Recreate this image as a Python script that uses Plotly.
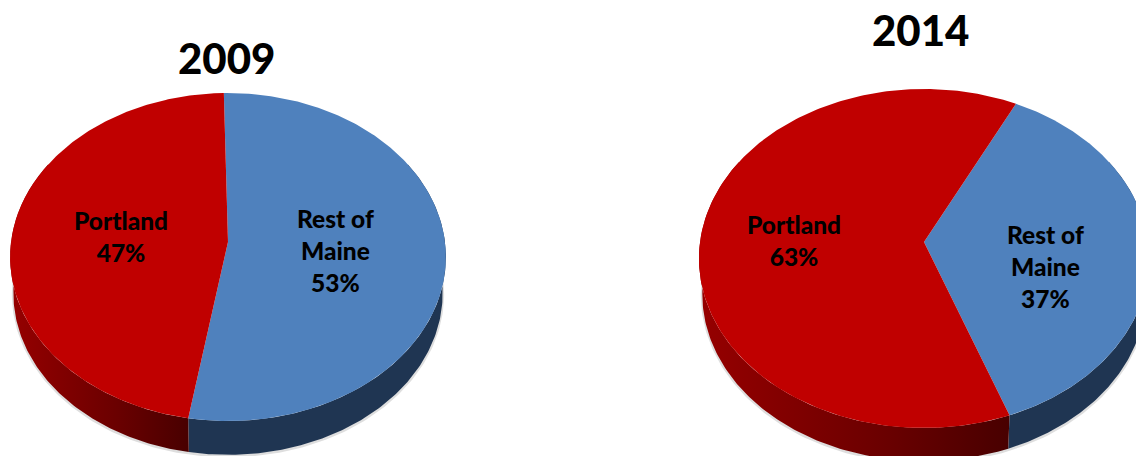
import numpy as np
import plotly.graph_objects as go

# Survey shares, in percent
years = ["2009", "2014"]
categories = ["Rest of<br>Maine", "Portland"]
shares_2009 = [53, 47]
shares_2014 = [37, 63]

WIDTH, HEIGHT = 1136, 456
FACE_COLORS = ["#4F81BD", "#C00000"]
WALL_BLUE = "#1F3552"
WALL_RED = [[0, "#960000"], [0.6, "#6A0000"], [1, "#480000"]]
WALL_TOP, WALL_BOTTOM = 60.0, 300.0  # part of the rim whose wall can be seen

# Projected disc: apex position, horizontal and vertical scale, tilt, first-slice angle
PIES = [
    dict(cx=228, cy=242, a=217, b=162.6, k=0.0915, rot=-1.2, s=0.985, dy=36.5,
         title_xy=(226, 58), label_xy=[(335, 250), (121, 236)]),
    dict(cx=924, cy=242, a=224, b=167.9, k=0.0973, rot=26.5, s=0.985, dy=36,
         title_xy=(920, 30), label_xy=[(1045, 266), (794, 240)]),
]


def rim(p, deg, bottom=False):
    """Project rim angles (clockwise from the top) onto the tilted disc."""
    t = np.radians(deg)
    u, v = np.sin(t), np.cos(t)
    w = 1 + p["k"] * v
    s, dy = (p["s"], p["dy"]) if bottom else (1.0, 0.0)
    return p["cx"] + s * p["a"] * u / w, p["cy"] - s * p["b"] * v / w + dy


def wall_trace(p, start, end, **style):
    lo, hi = max(start, WALL_TOP), min(end, WALL_BOTTOM)
    ts = np.linspace(lo, hi, 160)
    xt, yt = rim(p, ts)
    xb, yb = rim(p, ts[::-1], bottom=True)
    return go.Scatter(
        x=np.r_[xt, xb, xt[0]], y=np.r_[yt, yb, yt[0]],
        mode="lines", line=dict(width=0), fill="toself",
        hoverinfo="skip", showlegend=False, **style,
    )


fig = go.Figure()
annotations = []

for p, year, shares in zip(PIES, years, [shares_2009, shares_2014]):
    edges = p["rot"] + 360 * np.cumsum([0] + shares) / sum(shares)

    # soft shadow under the bottom rim
    ts = np.linspace(WALL_TOP, WALL_BOTTOM, 240)
    xs, ys = rim(p, ts, bottom=True)
    fig.add_trace(go.Scatter(x=xs, y=ys + 1, mode="lines",
                             line=dict(color="rgba(0,0,0,0.13)", width=3),
                             hoverinfo="skip", showlegend=False))

    # side walls
    fig.add_trace(wall_trace(p, edges[0], edges[1], fillcolor=WALL_BLUE))
    fig.add_trace(wall_trace(p, edges[1], edges[2],
                             fillgradient=dict(type="horizontal", colorscale=WALL_RED)))

    # top faces
    for i, color in enumerate(FACE_COLORS):
        ts = np.linspace(edges[i], edges[i + 1], 240)
        xr, yr = rim(p, ts)
        fig.add_trace(go.Scatter(
            x=np.r_[p["cx"], xr, p["cx"]], y=np.r_[p["cy"], yr, p["cy"]],
            mode="lines", line=dict(width=0), fill="toself", fillcolor=color,
            hoverinfo="skip", showlegend=False,
        ))
        lx, ly = p["label_xy"][i]
        annotations.append(dict(
            x=lx, y=ly, text=f"{categories[i]}<br>{shares[i]}%",
            showarrow=False, align="center", xanchor="center", yanchor="middle",
            font=dict(family="Lato", size=24.5, color="#000000", weight=900),
        ))

    tx, ty = p["title_xy"]
    annotations.append(dict(
        x=tx, y=ty, text=year, showarrow=False,
        xanchor="center", yanchor="middle",
        font=dict(family="Lato", size=42, color="#000000", weight=900),
    ))

fig.update_layout(
    width=WIDTH, height=HEIGHT, autosize=False,
    margin=dict(l=0, r=0, t=0, b=0),
    paper_bgcolor="white", plot_bgcolor="white",
    showlegend=False, annotations=annotations,
    xaxis=dict(range=[0, WIDTH], visible=False, fixedrange=True),
    yaxis=dict(range=[HEIGHT, 0], visible=False, fixedrange=True),
)

fig.write_html("out.html", config=dict(displayModeBar=False))
